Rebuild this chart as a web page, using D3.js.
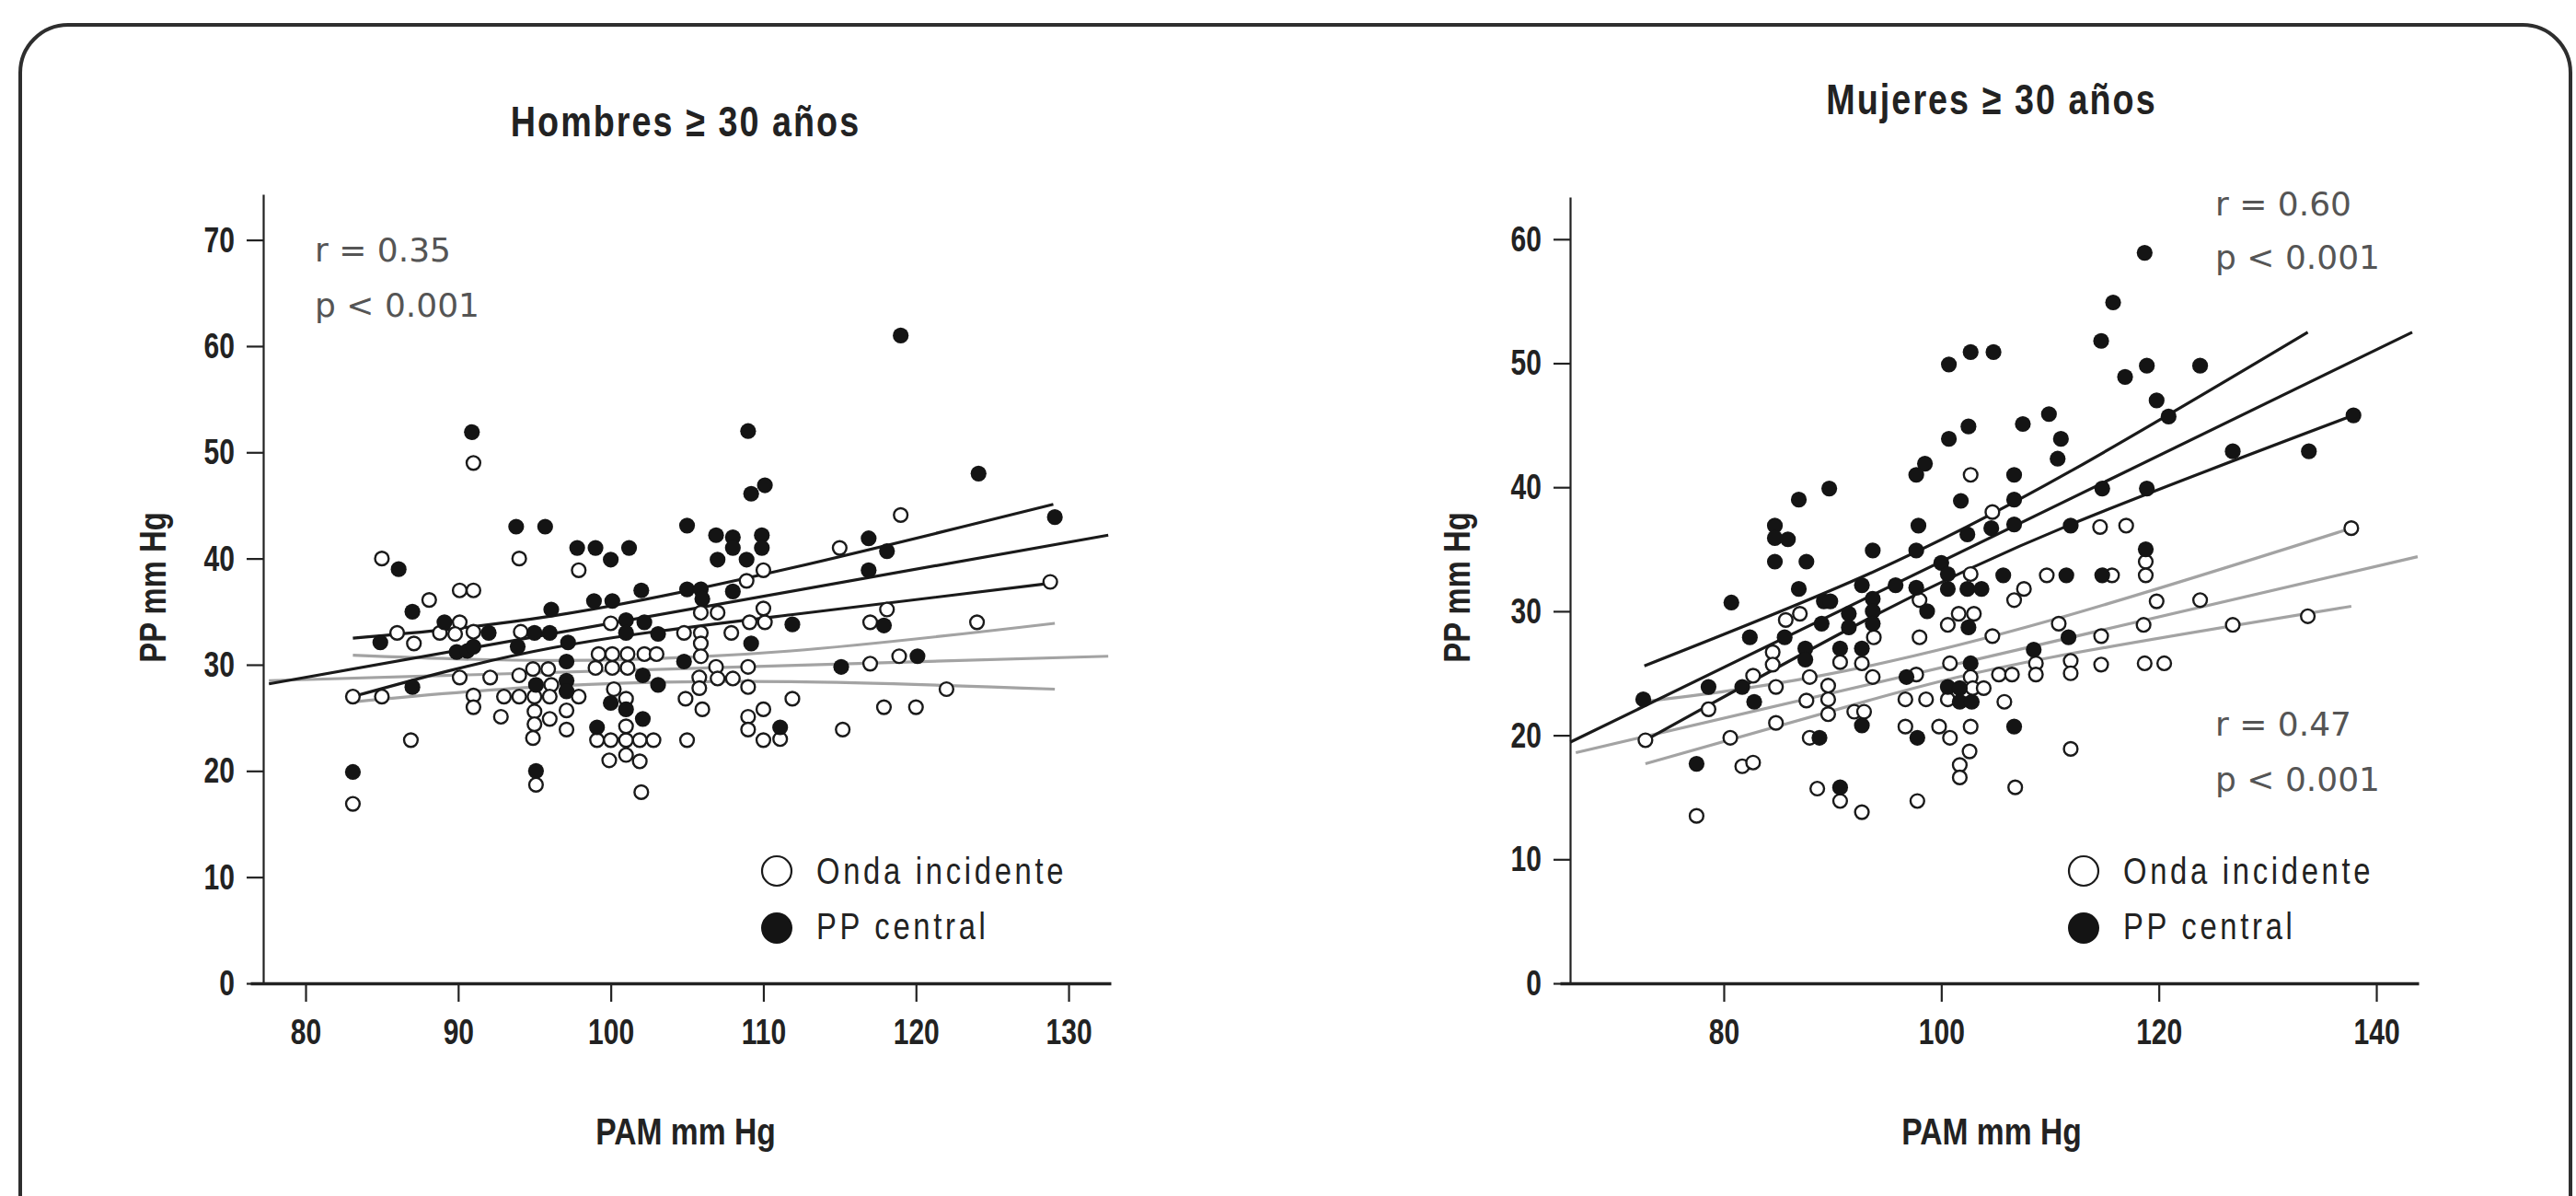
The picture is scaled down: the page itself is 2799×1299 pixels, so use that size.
<!DOCTYPE html>
<html lang="es">
<head>
  <meta charset="UTF-8">
  <title>PP frente a PAM, hombres y mujeres de 30 años o más</title>
  <script src="https://d3js.org/d3.v7.min.js"></script>
  <style>
    html, body {
      margin: 0;
      padding: 0;
      background: #fff;
    }
    svg {
      display: block;
    }
    .cond {
      font-family: "Liberation Sans", Arial, sans-serif;
    }
    .tick text {
      font-family: "Liberation Sans", Arial, sans-serif;
      font-weight: bold;
      font-size: 39px;
      fill: #222;
    }
    .stat {
      font-family: "DejaVu Sans", sans-serif;
      font-size: 36px;
      fill: #555;
    }
  </style>
</head>
<body>
  <div id="chart"></div>
  <script>
    // ---- tick labels
    var hombresXTicks = [80, 90, 100, 110, 120, 130];
    var hombresYTicks = [0, 10, 20, 30, 40, 50, 60, 70];
    var mujeresXTicks = [80, 100, 120, 140];
    var mujeresYTicks = [0, 10, 20, 30, 40, 50, 60];

    // ---- Hombres >= 30: [PAM, PP]
    var hombresIncidente = [
      [91,49],[94,40],[85,40],[90.1,37],[91,37],[88.1,36.1],[90.1,34],[86,33],[88.8,33],[89.8,32.9],
      [91,33.1],[87.1,32],[94.1,33.1],[90.1,28.8],[92.1,28.8],[94,29],[94.9,29.6],[95.9,29.6],[96.1,28.1],
      [83.1,27],[85,27],[91,27.1],[91,26],[93,27],[94,27],[95,27],[96,27],[92.8,25.1],[95,25.6],[95,24.4],
      [96,24.9],[94.9,23.1],[86.9,22.9],[83.1,16.9],[95.1,18.7],
      [97.9,38.9],[100,33.9],[104.8,33],[105.9,34.9],[107,34.9],[105.9,33],[107.9,33],[110,35.3],[109.1,34],
      [110.1,34],[105.9,32],[110,38.9],[108.9,37.9],[99.2,31],[100.1,31],[101.1,31],[102.2,31],[103,31],
      [105.9,30.8],[99,29.7],[100.1,29.7],[101.1,29.7],[97.9,27],[97.1,25.7],[97.1,23.9],[105.8,28.8],
      [105.8,27.8],[106.9,29.8],[107,28.7],[108,28.7],[109,29.8],[109,27.9],[100.2,27.7],[101,26.8],
      [104.9,26.8],[106,25.8],[109,25.1],[109,23.9],[110,25.8],[110,22.9],[99.1,22.9],[100,22.9],[101,22.9],
      [101.9,22.9],[102.8,22.9],[101,24.2],[99.9,21],[101,21.5],[101.9,20.9],[102,18],[105,22.9],
      [119,44.1],[115,41],[128.8,37.8],[118.1,35.2],[117,34],[124,34],[117,30.1],[118.9,30.8],[122,27.7],
      [111.9,26.8],[117.9,26],[120,26],[115.2,23.9],[111.1,23]
    ];
    var hombresCentral = [
      [90.9,51.9],[93.8,43],[95.7,43],[86.1,39],[87,35],[89.1,34],[92,33],[84.9,32.1],[89.9,31.2],[90.6,31.3],
      [91,31.7],[93.9,31.7],[95,33],[96,33],[96.1,35.2],[95.1,28.1],[87,27.9],[83.1,19.9],[95.1,20],
      [109,52],[110.1,46.9],[109.2,46.1],[105,43.1],[106.9,42.2],[108,42],[109.9,42.2],[108,41],[109.9,41],
      [107,39.9],[108.9,39.9],[97.8,41],[99,41],[100,39.9],[101.2,41],[102,37],[98.9,36],[100.1,36],[105,37.1],
      [105.9,37.1],[106,36.2],[108,36.9],[101,34.2],[102.2,34],[101,33],[103.1,32.9],[97.2,32.1],[109.2,32],
      [97.1,30.3],[97.1,28.5],[97.1,27.5],[104.8,30.3],[102.1,29],[103.1,28.1],[100,26.4],[101,25.8],
      [102.1,24.9],[99.1,24.1],[111.1,24.1],
      [119,61],[124.1,48],[129.1,43.9],[116.9,41.9],[118.1,40.7],[116.9,38.9],[117.9,33.7],[111.9,33.8],
      [115.1,29.8],[120.1,30.8]
    ];
    // regression lines and their bands
    var hombresCentralFit = [[77.6,28.2],[132.6,42.2]];
    var hombresCentralUpper = [[83.1,32.5],[96.2,34.6],[111.8,39.1],[129,45.1]];
    var hombresCentralLower = [[83.1,27.0],[96.2,31.6],[111.8,34.7],[129,37.7]];
    var hombresIncidenteFit = [[77.6,28.5],[132.6,30.8]];
    var hombresIncidenteUpper = [[83.1,30.9],[96.2,30.4],[111.8,31.3],[129.1,33.9]];
    var hombresIncidenteLower = [[83.1,26.5],[96.2,28.0],[111.8,28.4],[129.1,27.7]];

    // ---- Mujeres >= 30: [PAM, PP]
    var mujeresIncidente = [
      [85.7,29.3],[87,29.8],[84.5,26.7],[84.5,25.7],[90.7,25.9],[82.7,24.8],[84.8,23.9],[87.9,24.7],[89.6,24],
      [89.6,22.9],[89.6,21.7],[87.6,22.8],[78.6,22.1],[72.8,19.6],[80.6,19.8],[84.8,21],[87.9,19.8],[81.7,17.5],
      [82.7,17.8],[88.6,15.7],[90.7,14.7],[77.5,13.5],[92.7,13.8],
      [102.7,41],[104.7,38],[102.7,33],[107.6,31.8],[106.7,30.9],[109.7,32.9],[98,30.9],[100.6,28.9],
      [101.6,29.8],[103,29.8],[93.8,27.9],[98,27.9],[104.7,28],[110.8,29],[92.7,25.8],[93.7,24.7],[100.8,25.8],
      [97.7,24.9],[102.7,24.7],[108.7,25.8],[108.7,24.9],[105.3,24.9],[106.5,24.9],[96.7,22.9],[98.6,22.9],
      [100.6,22.9],[102.9,23.8],[103.9,23.8],[105.8,22.7],[92,21.9],[92.9,21.9],[96.7,20.7],[99.8,20.7],
      [100.8,19.8],[102.7,20.7],[102.6,18.7],[101.7,17.6],[101.7,16.6],[106.8,15.8],[97.8,14.7],[111.9,18.9],
      [114.6,36.8],[117,36.9],[118.8,34],[118.8,32.9],[115.7,32.9],[137.7,36.7],[119.8,30.8],[123.8,30.9],
      [114.7,28],[118.6,28.9],[126.8,28.9],[133.7,29.6],[111.9,26],[111.9,25],[114.7,25.7],[118.7,25.8],
      [120.5,25.8]
    ];
    var mujeresCentral = [
      [89.7,39.9],[86.9,39],[84.7,36.9],[84.7,35.9],[85.9,35.8],[84.7,34],[87.6,34],[86.9,31.8],[80.7,30.7],
      [89.2,30.8],[89.8,30.8],[82.4,27.9],[85.6,27.9],[89,29],[91.5,29.8],[91.5,28.7],[87.5,27],[87.5,26.1],
      [90.7,27],[92.7,27],[78.6,23.9],[81.7,23.9],[82.8,22.7],[88.8,19.8],[77.5,17.7],[90.7,15.8],[72.6,22.9],
      [92.7,20.8],[92.7,32.1],[93.7,34.9],
      [100.7,49.9],[102.7,50.9],[104.8,50.9],[102.5,44.9],[100.7,43.9],[107.5,45.1],[109.9,45.9],[111,43.9],
      [110.7,42.3],[98.5,41.9],[97.7,41],[106.7,41],[101.8,38.9],[106.7,39],[97.9,36.9],[102.4,36.2],
      [104.6,36.7],[106.7,37],[97.7,34.9],[100,33.9],[100.6,33],[100.6,31.8],[95.8,32.1],[97.7,31.9],[93.7,31],
      [93.7,30],[93.7,29],[102.4,31.8],[103.7,31.8],[105.7,32.9],[111.5,32.9],[98.7,30],[102.5,28.7],
      [111.7,27.9],[102.7,25.8],[96.8,24.7],[108.5,26.9],[100.6,23.9],[101.7,23.8],[101.7,22.7],[102.8,22.7],
      [97.8,19.8],[106.7,20.7],
      [118.7,58.9],[115.8,54.9],[114.7,51.8],[118.9,49.8],[116.9,48.9],[123.8,49.8],[119.8,47],[120.9,45.7],
      [137.9,45.8],[126.8,42.9],[133.8,42.9],[114.8,39.9],[118.9,39.9],[111.9,36.9],[118.8,35],[114.8,32.9]
    ];
    var mujeresCentralFit = [[65.9,19.45],[143.3,52.5]];
    var mujeresCentralUpper = [[72.7,25.6],[93.3,33.0],[111.9,41.3],[133.7,52.5]];
    var mujeresCentralLower = [[72.8,19.6],[93.3,29.4],[111.9,37.0],[137.9,45.8]];
    var mujeresIncidenteFit = [[66.4,18.6],[143.8,34.4]];
    var mujeresIncidenteUpper = [[72.6,22.7],[88.9,24.8],[110.2,29.3],[137.7,36.7]];
    var mujeresIncidenteLower = [[72.8,17.7],[93.3,22.8],[110.2,26.3],[137.7,30.4]];

    var legendLabels = ["Onda incidente", "PP central"];

    var W = 2799, H = 1299;
    var NARROW = 0.82;      // no condensed face installed, so squeeze Liberation Sans like Arial Narrow
    var TICK_NARROW = 0.77; // tick numbers are a bit tighter still

    var svg = d3.select("#chart").append("svg")
      .attr("width", W)
      .attr("height", H);

    // rounded frame (runs off the bottom of the page)
    svg.append("rect")
      .attr("x", 22).attr("y", 27)
      .attr("width", 2771).attr("height", 1400)
      .attr("rx", 52).attr("ry", 52)
      .attr("fill", "none")
      .attr("stroke", "#2e2e2e")
      .attr("stroke-width", 4);

    // condensed text helper
    function condText(parent, x, y, txt, opts) {
      var t = "translate(" + x + "," + y + ")" + (opts.rotate ? " rotate(" + opts.rotate + ")" : "") +
              " scale(" + NARROW + ",1)";
      return parent.append("text")
        .attr("class", "cond")
        .attr("transform", t)
        .attr("text-anchor", opts.anchor || "start")
        .attr("font-weight", opts.weight || "normal")
        .attr("font-size", opts.size)
        .attr("letter-spacing", opts.spacing || 0)
        .attr("fill", "#222")
        .text(txt);
    }

    function drawPanel(p) {
      var x = d3.scaleLinear().domain(p.xDomain).range(p.xRange);
      var y = d3.scaleLinear().domain(p.yDomain).range([1068, p.yTop]);
      var g = svg.append("g");

      // title
      condText(g, p.titleX, p.titleY, p.title, {anchor: "middle", weight: "bold", size: 46, spacing: 2.5});

      // axes
      var xAxis = g.append("g")
        .attr("transform", "translate(0,1068)")
        .call(d3.axisBottom(x).tickValues(p.xTicks).tickSize(20).tickSizeOuter(0).tickPadding(18));
      xAxis.select(".domain").attr("stroke", "#222").attr("stroke-width", 3.5);
      xAxis.selectAll(".tick line").attr("stroke", "#222").attr("stroke-width", 2.2);
      xAxis.selectAll(".tick text").attr("transform", "scale(" + TICK_NARROW + ",1)");

      var yAxis = g.append("g")
        .attr("transform", "translate(" + p.yAxisX + ",0)")
        .call(d3.axisLeft(y).tickValues(p.yTicks).tickSize(18).tickSizeOuter(0).tickPadding(13));
      yAxis.select(".domain").attr("stroke", "#222").attr("stroke-width", 2.2);
      yAxis.selectAll(".tick line").attr("stroke", "#222").attr("stroke-width", 2.2);
      yAxis.selectAll(".tick text")
        .attr("x", -31 / TICK_NARROW)
        .attr("transform", "scale(" + TICK_NARROW + ",1)");

      // axis titles
      condText(g, p.titleX, 1243, "PAM mm Hg", {anchor: "middle", weight: "bold", size: 41});
      condText(g, p.yLabelX, 638, "PP mm Hg", {anchor: "middle", weight: "bold", size: 40, rotate: -90});

      // regression lines
      var straight = d3.line().x(d => x(d[0])).y(d => y(d[1]));
      var curved = d3.line().x(d => x(d[0])).y(d => y(d[1])).curve(d3.curveNatural);

      [p.incUpper, p.incLower].forEach(function(band) {
        g.append("path").datum(band)
          .attr("fill", "none").attr("stroke", "#a3a3a3").attr("stroke-width", 3.2)
          .attr("d", curved);
      });
      g.append("path").datum(p.incFit)
        .attr("fill", "none").attr("stroke", "#a3a3a3").attr("stroke-width", 3.2)
        .attr("d", straight);

      [p.cenUpper, p.cenLower].forEach(function(band) {
        g.append("path").datum(band)
          .attr("fill", "none").attr("stroke", "#1a1a1a").attr("stroke-width", 3.2)
          .attr("d", curved);
      });
      g.append("path").datum(p.cenFit)
        .attr("fill", "none").attr("stroke", "#1a1a1a").attr("stroke-width", 3.2)
        .attr("d", straight);

      // points
      g.append("g").selectAll("circle")
        .data(p.open)
        .join("circle")
        .attr("cx", d => x(d[0]))
        .attr("cy", d => y(d[1]))
        .attr("r", 7.4)
        .attr("fill", "#fff")
        .attr("stroke", "#1a1a1a")
        .attr("stroke-width", 2.4);

      g.append("g").selectAll("circle")
        .data(p.filled)
        .join("circle")
        .attr("cx", d => x(d[0]))
        .attr("cy", d => y(d[1]))
        .attr("r", 8.6)
        .attr("fill", "#141414");

      // r / p annotations
      p.stats.forEach(function(s) {
        g.append("text")
          .attr("class", "stat")
          .attr("x", s.x).attr("y", s.y)
          .text(s.text);
      });

      // legend
      var lg = g.append("g").attr("transform", "translate(" + p.legendX + ",0)");
      lg.append("circle").attr("cx", 0).attr("cy", 946).attr("r", 16)
        .attr("fill", "#fff").attr("stroke", "#1a1a1a").attr("stroke-width", 2.2);
      lg.append("circle").attr("cx", 0).attr("cy", 1008).attr("r", 17)
        .attr("fill", "#141414");
      legendLabels.forEach(function(label, i) {
        condText(lg, 43, i === 0 ? 960 : 1020, label, {size: 40, spacing: 4.5});
      });
    }

    drawPanel({
      title: "Hombres \u2265 30 a\u00f1os",
      titleX: 745, titleY: 148,
      xDomain: [76.38, 132.77], xRange: [272, 1207],
      yDomain: [0, 74.3], yTop: 211,
      yAxisX: 286, yLabelX: 180,
      xTicks: hombresXTicks, yTicks: hombresYTicks,
      open: hombresIncidente, filled: hombresCentral,
      cenFit: hombresCentralFit, cenUpper: hombresCentralUpper, cenLower: hombresCentralLower,
      incFit: hombresIncidenteFit, incUpper: hombresIncidenteUpper, incLower: hombresIncidenteLower,
      stats: [{text: "r = 0.35", x: 342, y: 284}, {text: "p < 0.001", x: 342, y: 344}],
      legendX: 844
    });

    drawPanel({
      title: "Mujeres \u2265 30 a\u00f1os",
      titleX: 2164, titleY: 124,
      xDomain: [64.94, 143.89], xRange: [1695, 2628],
      yDomain: [0, 63.4], yTop: 214,
      yAxisX: 1706, yLabelX: 1597,
      xTicks: mujeresXTicks, yTicks: mujeresYTicks,
      open: mujeresIncidente, filled: mujeresCentral,
      cenFit: mujeresCentralFit, cenUpper: mujeresCentralUpper, cenLower: mujeresCentralLower,
      incFit: mujeresIncidenteFit, incUpper: mujeresIncidenteUpper, incLower: mujeresIncidenteLower,
      stats: [
        {text: "r = 0.60", x: 2407, y: 234}, {text: "p < 0.001", x: 2407, y: 292},
        {text: "r = 0.47", x: 2407, y: 799}, {text: "p < 0.001", x: 2407, y: 859}
      ],
      legendX: 2264
    });
  </script>
</body>
</html>
